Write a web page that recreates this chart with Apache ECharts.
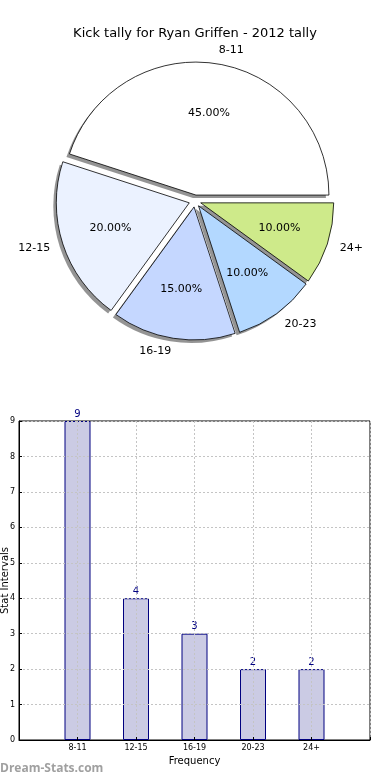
<!DOCTYPE html>
<html>
<head>
<meta charset="utf-8">
<script src="https://cdn.jsdelivr.net/npm/echarts@6/dist/echarts.min.js"></script>
<style>
html,body{margin:0;padding:0;background:#fff;}
#chart{width:390px;height:780px;}
</style>
</head>
<body>
<div id="chart"></div>
<script>
var titleText = 'Kick tally for Ryan Griffen - 2012 tally';
var categories = ['8-11', '12-15', '16-19', '20-23', '24+'];
var counts = [9, 4, 3, 2, 2];
var sliceColors = ['#ffffff', '#ebf2ff', '#c5d7ff', '#b3d8ff', '#ceea8a'];
var yTicks = [0, 1, 2, 3, 4, 5, 6, 7, 8, 9];

var total = counts.reduce(function(a, b){ return a + b; }, 0);
var font = 'DejaVu Sans';
var R = 133;
var cx = 195, cy = 201;

function pieData(kind) {
  return categories.map(function(c, i){
    var st;
    if (kind === 'main') st = {color: sliceColors[i], borderColor: '#000', borderWidth: 0.8};
    else if (kind === 'shadow') st = {color: 'rgba(0,0,0,0.42)', borderWidth: 0};
    else st = {color: 'rgba(0,0,0,0)', borderWidth: 0, borderColor: 'rgba(0,0,0,0)'};
    return {name: c, value: counts[i], selected: true, itemStyle: st};
  });
}

function pieSeries(kind, radius, ctr, z, label) {
  return {
    type: 'pie', center: ctr, radius: [0, radius], startAngle: 0, clockwise: false,
    selectedMode: 'multiple', selectedOffset: 6, silent: true, z: z,
    avoidLabelOverlap: false,
    data: pieData(kind),
    itemStyle: kind === 'main' ? {borderColor: '#000', borderWidth: 0.8} : {borderWidth: 0, borderColor: 'rgba(0,0,0,0)'},
    select: {itemStyle: kind === 'main' ? {borderColor: '#000', borderWidth: 0.8} : {borderWidth: 0, borderColor: 'rgba(0,0,0,0)'}},
    label: label || {show: false},
    labelLine: {show: false, length: 0, length2: 0},
    emphasis: {disabled: true}
  };
}

var xCats = [''].concat(categories).concat(['']);
var barVals = [null].concat(counts).concat([null]);

var chart = echarts.init(document.getElementById('chart'), null, {renderer: 'canvas'});
chart.setOption({
  animation: false,
  backgroundColor: '#fff',
  textStyle: {fontFamily: font},
  title: {
    text: titleText, left: 'center', top: 22,
    textStyle: {fontFamily: font, fontSize: 13, fontWeight: 'normal', color: '#000'}
  },
  grid: {left: 19, right: 20, top: 421, bottom: 40, containLabel: false, outerBoundsMode: 'none',
    show: true, borderColor: '#000', borderWidth: 1, backgroundColor: 'transparent'},
  xAxis: {
    type: 'category', data: xCats, boundaryGap: false, z: 5,
    name: 'Frequency', nameLocation: 'middle', nameGap: 16,
    nameTextStyle: {fontFamily: font, fontSize: 10, color: '#000'},
    axisLine: {lineStyle: {color: '#000'}},
    axisTick: {show: true, inside: true, length: 3, lineStyle: {color: '#000'}},
    axisLabel: {fontFamily: font, fontSize: 8, color: '#000', margin: 4},
    splitLine: {show: true, lineStyle: {color: '#c4c4c4', type: [2, 2], width: 1}}
  },
  yAxis: {
    type: 'value', min: 0, max: 9, interval: 1, z: 5,
    name: 'Stat Intervals', nameLocation: 'middle', nameGap: 14, nameRotate: 90,
    nameMoveOverlap: false,
    nameTextStyle: {fontFamily: font, fontSize: 10, color: '#000', verticalAlign: 'middle'},
    axisLine: {show: true, lineStyle: {color: '#000'}},
    axisTick: {show: true, inside: true, length: 3, lineStyle: {color: '#000'}},
    axisLabel: {fontFamily: font, fontSize: 8, color: '#000', margin: 4,
      formatter: function(v){ return yTicks.indexOf(v) >= 0 ? String(v) : ''; }},
    splitLine: {show: true, lineStyle: {color: '#c4c4c4', type: [2, 2], width: 1}}
  },
  graphic: [{
    type: 'text', left: 0, top: 763,
    style: {text: 'Dream-Stats.com', font: 'bold 12px "Open Sans", "DejaVu Sans"', fill: '#a0a0a0'}
  }],
  series: [
    pieSeries('shadow', R, [cx - 3, cy + 3], 1),
    pieSeries('main', R, [cx, cy], 2),
    pieSeries('label', R * 1.2, [cx, cy], 3, {show: true, position: 'inside', fontFamily: font, fontSize: 11, color: '#000',
        formatter: function(p){ return (p.value / total * 100).toFixed(2) + '%'; }}),
    pieSeries('label', R * 1.1, [cx, cy], 3, {show: true, position: 'outside', fontFamily: font, fontSize: 11, color: '#000',
        formatter: '{b}', distanceToLabelLine: 0}),
    {
      type: 'bar', data: barVals, barWidth: 26, z: 2,
      itemStyle: {color: '#cbcbe4', borderColor: '#000080', borderWidth: 1},
      label: {show: true, position: 'top', distance: 2, fontFamily: font, fontSize: 10, color: '#000080'}
    }
  ]
});
</script>
</body>
</html>
